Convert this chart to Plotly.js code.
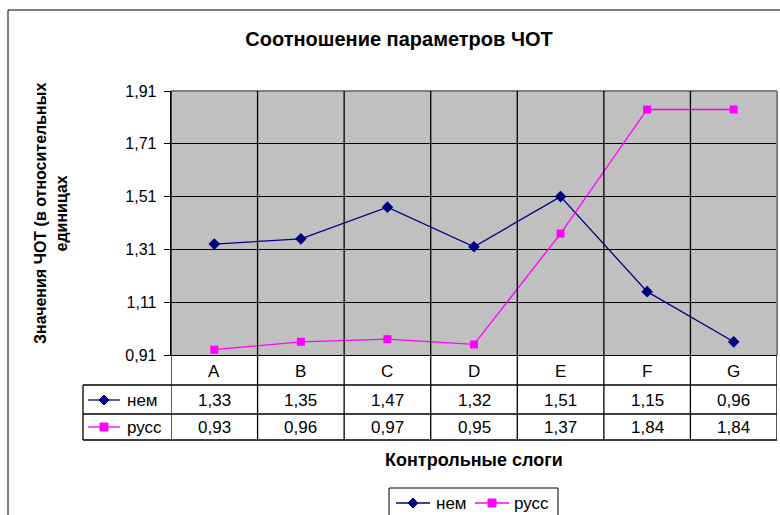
<!DOCTYPE html>
<html>
<head>
<meta charset="utf-8">
<script src="https://cdn.plot.ly/plotly-3.0.1.min.js"></script>
<style>html,body{margin:0;padding:0;background:#fff;}#chart{width:780px;height:515px;}</style>
</head>
<body>
<div id="chart"></div>
<script>
var categories = ['A', 'B', 'C', 'D', 'E', 'F', 'G'];
var seriesNames = ['нем', 'русс'];
var nem = [1.33, 1.35, 1.47, 1.32, 1.51, 1.15, 0.96];
var russ = [0.93, 0.96, 0.97, 0.95, 1.37, 1.84, 1.84];
var yTicks = [0.91, 1.11, 1.31, 1.51, 1.71, 1.91];
var titleText = 'Соотношение параметров ЧОТ';
var xTitle = 'Контрольные слоги';
var yTitle = 'Значения ЧОТ (в относительных<br>единицах';

var FONT = 'Liberation Sans, Arial, sans-serif';
var L = 171, R = 777, T = 91, B = 355, W = 780, H = 515;
var PW = R - L, PH = B - T;
function px(x) { return (x - L) / PW; }
function py(y) { return (B - y) / PH; }
function fmt(v) { return v.toFixed(2).replace('.', ','); }

var colors = ['#000080', '#FF00FF'];
var symbols = ['diamond', 'square'];
var series = [nem, russ];
var keyPaths = ['M0,-5 L5,0 L0,5 L-5,0 Z', 'M-4,-4 L4,-4 L4,4 L-4,4 Z'];

var traces = series.map(function (s, i) {
  return {
    x: categories, y: s, name: seriesNames[i], type: 'scatter', mode: 'lines+markers',
    line: { color: colors[i], width: 1.3 },
    marker: { symbol: symbols[i], size: i === 0 ? 9 : 8, color: colors[i] },
    cliponaxis: false, showlegend: false
  };
});

var shapes = [];
var annotations = [];
var TXT = { family: FONT, size: 17, color: '#000' };

// outer chart border
shapes.push({ type: 'rect', xref: 'paper', yref: 'paper', x0: px(8), x1: px(790), y0: py(10), y1: py(530), line: { color: '#000', width: 1 }, layer: 'below' });
// plot area border top/right (gray)
shapes.push({ type: 'line', xref: 'paper', yref: 'paper', x0: 0, x1: 1, y0: 1, y1: 1, line: { color: '#808080', width: 2 } });
shapes.push({ type: 'line', xref: 'paper', yref: 'paper', x0: 1, x1: 1, y0: 0, y1: 1, line: { color: '#808080', width: 2 } });

// vertical category boundary lines through plot and table
var yTableBottom = py(440);
for (var i = 0; i <= categories.length; i++) {
  shapes.push({ type: 'line', xref: 'x', yref: 'paper', x0: i - 0.5, x1: i - 0.5, y0: yTableBottom, y1: (i === categories.length ? 0 : 1), line: { color: '#000', width: 1.3 }, layer: 'above' });
}
// table horizontal lines
[385, 414, 440].forEach(function (y) {
  shapes.push({ type: 'line', xref: 'paper', yref: 'paper', x0: px(83), x1: 1, y0: py(y), y1: py(y), line: { color: '#000', width: 1.3 } });
});
shapes.push({ type: 'line', xref: 'paper', yref: 'paper', x0: px(83), x1: px(83), y0: py(385), y1: py(440), line: { color: '#000', width: 1.3 } });

// table category row
categories.forEach(function (c) {
  annotations.push({ x: c, xref: 'x', y: py(371), yref: 'paper', text: c, showarrow: false, font: TXT, xanchor: 'center', yanchor: 'middle' });
});
// table value rows
var rowY = [400, 427];
series.forEach(function (s, si) {
  s.forEach(function (v, i) {
    annotations.push({ x: categories[i], xref: 'x', y: py(rowY[si]), yref: 'paper', text: fmt(v), showarrow: false, font: TXT, xanchor: 'center', yanchor: 'middle' });
  });
  // legend key in table
  shapes.push({ type: 'line', xref: 'paper', yref: 'paper', x0: px(88), x1: px(120), y0: py(rowY[si]), y1: py(rowY[si]), line: { color: colors[si], width: 1.3 } });
  shapes.push({ type: 'path', xref: 'paper', yref: 'paper', xsizemode: 'pixel', ysizemode: 'pixel', xanchor: px(104), yanchor: py(rowY[si]), path: keyPaths[si], fillcolor: colors[si], line: { color: colors[si], width: 1 } });
  annotations.push({ x: px(125), xref: 'paper', y: py(rowY[si]), yref: 'paper', text: seriesNames[si], showarrow: false, font: TXT, xanchor: 'left', yanchor: 'middle' });
});

// bottom legend (drawn manually so it does not push margins)
var legTop = 488, legY = 503;
shapes.push({ type: 'rect', xref: 'paper', yref: 'paper', x0: px(389), x1: px(558), y0: py(legTop), y1: py(530), line: { color: '#000', width: 1 }, fillcolor: '#fff' });
var legX = [396, 475];
var legTextX = [434, 512];
seriesNames.forEach(function (n, si) {
  shapes.push({ type: 'line', xref: 'paper', yref: 'paper', x0: px(legX[si]), x1: px(legX[si] + 34), y0: py(legY), y1: py(legY), line: { color: colors[si], width: 1.3 } });
  shapes.push({ type: 'path', xref: 'paper', yref: 'paper', xsizemode: 'pixel', ysizemode: 'pixel', xanchor: px(legX[si] + 17), yanchor: py(legY), path: keyPaths[si], fillcolor: colors[si], line: { color: colors[si], width: 1 } });
  annotations.push({ x: px(legTextX[si]), xref: 'paper', y: py(legY), yref: 'paper', text: n, showarrow: false, font: TXT, xanchor: 'left', yanchor: 'middle' });
});

// x title
annotations.push({ x: px(474), xref: 'paper', y: py(460), yref: 'paper', text: '<b>' + xTitle + '</b>', showarrow: false, font: { family: FONT, size: 18, color: '#000' }, xanchor: 'center', yanchor: 'middle' });
// y title
annotations.push({ x: px(51), xref: 'paper', y: py(214), yref: 'paper', text: '<b>' + yTitle + '</b>', textangle: -90, showarrow: false, font: { family: FONT, size: 16, color: '#000' }, xanchor: 'center', yanchor: 'middle' });

var layout = {
  width: W, height: H,
  margin: { l: L, r: W - R, t: T, b: H - B, pad: 0 },
  paper_bgcolor: '#ffffff',
  plot_bgcolor: '#C0C0C0',
  separators: ', ',
  font: { family: FONT, size: 16, color: '#000' },
  title: { text: '<b>' + titleText + '</b>', x: 399 / W, xref: 'container', xanchor: 'center', y: 1 - 39 / H, yref: 'container', yanchor: 'middle', font: { family: FONT, size: 20, color: '#000' } },
  xaxis: { type: 'category', range: [-0.5, categories.length - 0.5], showticklabels: false, showgrid: false, zeroline: false, showline: true, linecolor: '#000', linewidth: 1.3, ticks: '', fixedrange: true },
  yaxis: { range: [yTicks[0], yTicks[yTicks.length - 1]], tickvals: yTicks, ticktext: yTicks.map(fmt), showgrid: true, gridcolor: '#000', gridwidth: 1.3, zeroline: false, showline: true, linecolor: '#000', linewidth: 1.3, ticks: 'outside', ticklen: 6, tickcolor: '#000', tickfont: { family: FONT, size: 16, color: '#000' }, ticklabelstandoff: 4 },
  showlegend: false,
  shapes: shapes,
  annotations: annotations
};

Plotly.newPlot('chart', traces, layout, { displayModeBar: false, staticPlot: true });
</script>
</body>
</html>
